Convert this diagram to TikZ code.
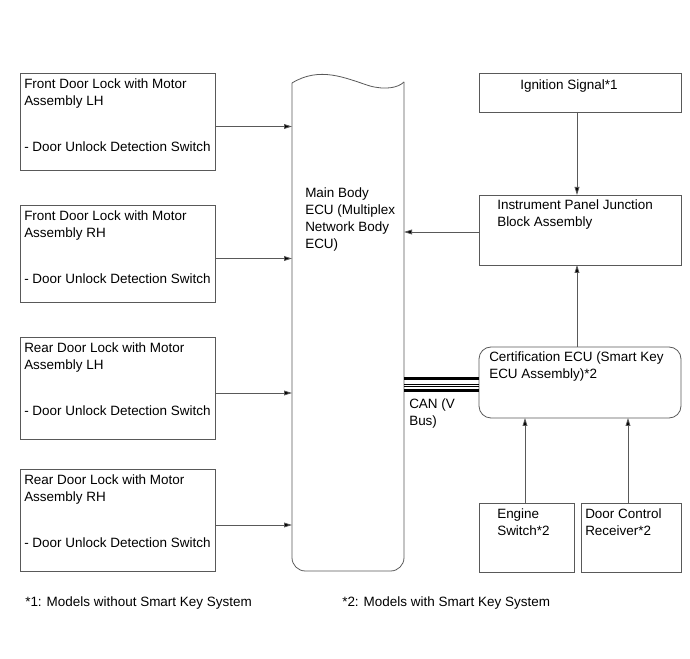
\documentclass[tikz,border=0pt]{standalone}
\usepackage{fontspec}
\setmainfont{Liberation Sans}
\usetikzlibrary{arrows.meta}
\begin{document}
\begin{tikzpicture}[x=0.75pt,y=-0.75pt,
  box/.style={draw=black!65, line width=0.6pt},
  txt/.style={anchor=north west, inner sep=0pt, font=\fontsize{10.1}{12.8}\selectfont, align=left},
  conn/.style={draw=black!65, line width=0.6pt, -{Triangle[length=6pt,width=3.6pt,fill=black]}}]
\useasboundingbox (0,0) rectangle (690,659);
% left boxes
\foreach \n/\t/\b/\l in {a/73/170/{Front Door Lock with Motor\\Assembly LH},
                        b/205/302/{Front Door Lock with Motor\\Assembly RH},
                        c/337/439/{Rear Door Lock with Motor\\Assembly LH},
                        d/469/571/{Rear Door Lock with Motor\\Assembly RH}}{
  \draw[box] (20,\t) rectangle (215,\b);
  \node[txt] (\n t) at (24,\t+5) {\l};
  \node[txt] (\n s) at (24,\t+68) {- Door Unlock Detection Switch};
  \coordinate (\n) at (215,{(\t+\b)/2+5});
}
% main ECU
\draw[box] (292,83) .. controls (320,66) and (345,78) .. (370,86)
  .. controls (385,90) and (398,88) .. (404,82);
\draw[box,rounded corners=10pt] (292,83) -- (292,571) -- (404,571) -- (404,82);
\node[txt] (ecut) at (305,187) {Main Body\\ECU (Multiplex\\Network Body\\ECU)};
\foreach \n in {a,b,c,d}{
  \coordinate (\n e) at (292,0 |- \n);
  \draw[conn] (\n) -- (\n e);
}
% right side
\draw[box] (479,73) rectangle (681,112);
\node[txt] (ign) at (520,79) {Ignition Signal*1};
\draw[box] (479,195) rectangle (681,265);
\node[txt] (ipjb) at (497,199) {Instrument Panel Junction\\Block Assembly};
\draw[box,rounded corners=9pt] (479,347) rectangle (681,418);
\node[txt] (cert) at (489,351) {Certification ECU (Smart Key\\ECU Assembly)*2};
\draw[box] (479,503) rectangle (574,572);
\node[txt] (eng) at (497,508) {Engine\\Switch*2};
\draw[box] (581,503) rectangle (681,572);
\node[txt] (dcr) at (585,508) {Door Control\\Receiver*2};
\coordinate (ignb) at (577,112);
\coordinate (ipjbt) at (577,195);
\coordinate (ipjbl) at (479,232);
\coordinate (ecur) at (404,232);
\coordinate (ipjbb) at (577,265);
\coordinate (certt) at (577,347);
\coordinate (certb1) at (525,418);
\coordinate (certb2) at (628,418);
\coordinate (engt) at (525,503);
\coordinate (dcrt) at (628,503);
\draw[conn] (ignb) -- (ipjbt);
\draw[conn] (ipjbl) -- (ecur);
\draw[conn] (certt) -- (ipjbb);
\draw[conn] (engt) -- (certb1);
\draw[conn] (dcrt) -- (certb2);
% CAN bus
\coordinate (canl) at (404,378.5);
\coordinate (canr) at (479,378.5);
\draw[line width=2.4pt] (canl) -- (canr);
\draw[line width=0.6pt] ([yshift=-5.5*0.75pt]canl) -- ([yshift=-5.5*0.75pt]canr);
\draw[line width=0.6pt] ([yshift=-8*0.75pt]canl) -- ([yshift=-8*0.75pt]canr);
\draw[line width=2.4pt] ([yshift=-12*0.75pt]canl) -- ([yshift=-12*0.75pt]canr);
\node[txt] (can) at (409,398) {CAN (V\\Bus)};
% footnotes
\node[txt] (f1) at (25,596) {*1: Models without Smart Key System};
\node[txt] (f2) at (342,596) {*2: Models with Smart Key System};
\end{tikzpicture}
\end{document}
